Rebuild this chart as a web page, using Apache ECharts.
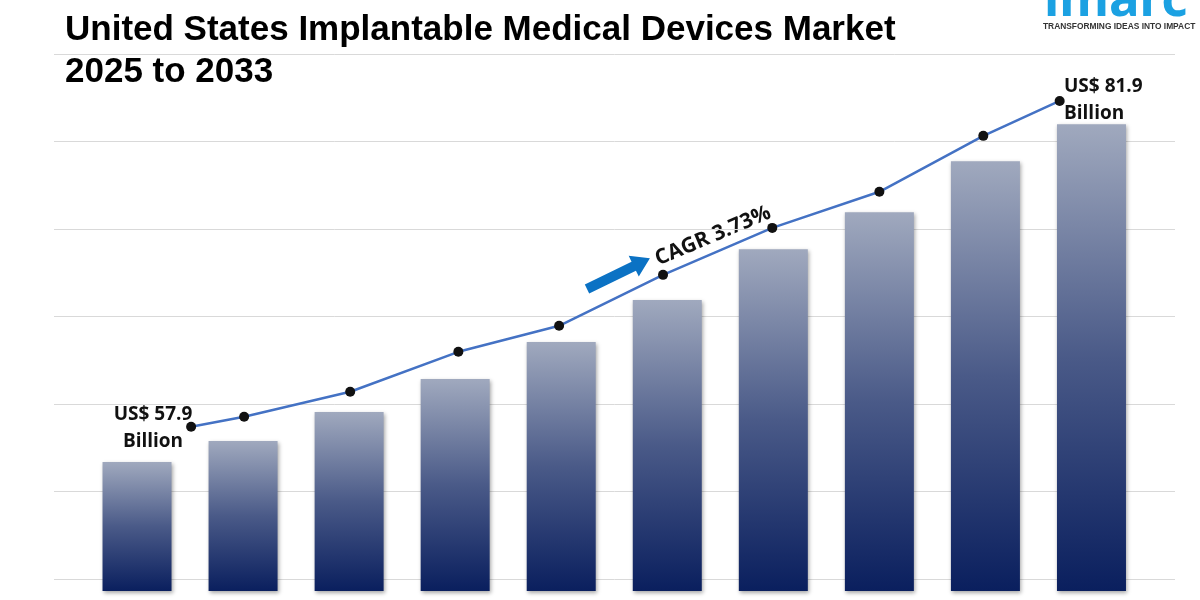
<!DOCTYPE html>
<html>
<head>
<meta charset="utf-8">
<script src="https://cdn.jsdelivr.net/npm/echarts@6/dist/echarts.min.js"></script>
<style>
html,body{margin:0;padding:0;background:#fff;}
#chart{width:1200px;height:600px;}
</style>
</head>
<body>
<div id="chart"></div>
<script>
// ---- data ----
var categories = ['2024','2025','2026','2027','2028','2029','2030','2031','2032','2033'];
var barValues = [55.3, 56.85, 58.98, 61.41, 64.14, 67.23, 70.98, 73.71, 77.46, 80.19];
var linePeriods = [1.01, 1.51, 2.51, 3.53, 4.48, 5.46, 6.49, 7.50, 8.48, 9.20];
var lineValues = [57.9, 58.64, 60.48, 63.42, 65.34, 69.09, 72.55, 75.21, 79.33, 81.9];
var gridTicks = [0, 1, 2, 3, 4, 5, 6];
var titleText = 'United States Implantable Medical Devices Market\n2025 to 2033';
var startLabel = 'US$ 57.9\nBillion';
var endLabel = 'US$ 81.9\nBillion';
var cagrLabel = 'CAGR 3.73%';

var chart = echarts.init(document.getElementById('chart'), null, {renderer: 'canvas'});

var lineData = linePeriods.map(function (x, i) { return [x, lineValues[i]]; });

var option = {
  backgroundColor: '#ffffff',
  animation: false,
  title: {
    text: titleText,
    left: 60,
    top: 4,
    textStyle: {
      fontFamily: 'Liberation Sans, Arial, sans-serif',
      fontWeight: 'bold',
      fontSize: 35,
      lineHeight: 42,
      color: '#000000'
    }
  },
  grid: [
    {left: 84, right: 55.5, top: 54, bottom: 9},
    {left: 54, right: 25, top: 54, bottom: 21}
  ],
  xAxis: [
    {type: 'category', gridIndex: 0, data: categories, show: false},
    {type: 'value', gridIndex: 0, min: 0, max: 10, show: false},
    {type: 'value', gridIndex: 1, min: 0, max: 1, show: false}
  ],
  yAxis: [
    {type: 'value', gridIndex: 0, min: 45.8, max: 85.36, show: false},
    {
      type: 'value', gridIndex: 1, min: gridTicks[0], max: gridTicks[gridTicks.length - 1], interval: 1,
      axisLine: {show: false}, axisTick: {show: false}, axisLabel: {show: false},
      splitLine: {show: true, lineStyle: {color: '#d9d9d9', width: 1}}
    }
  ],
  series: [
    {
      type: 'bar',
      xAxisIndex: 0,
      yAxisIndex: 0,
      data: barValues,
      barWidth: 69,
      itemStyle: {
        color: new echarts.graphic.LinearGradient(0, 0, 0, 1, [
          {offset: 0, color: '#a0a9be'},
          {offset: 0.5, color: '#4a5a88'},
          {offset: 1, color: '#0a1f5e'}
        ]),
        shadowColor: 'rgba(0,0,0,0.35)',
        shadowBlur: 4,
        shadowOffsetY: 2,
        shadowOffsetX: 1
      },
      z: 2
    },
    {
      type: 'line',
      xAxisIndex: 1,
      yAxisIndex: 0,
      data: lineData,
      symbol: 'circle',
      symbolSize: 10,
      itemStyle: {color: '#111111'},
      lineStyle: {color: '#4472c4', width: 2.5},
      z: 5
    }
  ],
  graphic: [
    {
      type: 'text', left: 1044, top: -24,
      style: {text: 'imarc', font: 'bold 51px "Noto Sans", sans-serif', fill: '#1ba1e2'}
    },
    {
      type: 'text', left: 1043, top: 23,
      style: {text: 'TRANSFORMING IDEAS INTO IMPACT', font: 'bold 8.4px "Liberation Sans", Arial, sans-serif', fill: '#333333'}
    },
    {
      type: 'text', x: 153, y: 401,
      style: {text: startLabel, font: 'bold 19px "Open Sans", sans-serif', fill: '#111111', textAlign: 'center', lineHeight: 27}
    },
    {
      type: 'text', x: 1064, y: 73,
      style: {text: endLabel, font: 'bold 19px "Open Sans", sans-serif', fill: '#111111', textAlign: 'left', lineHeight: 27}
    },
    {
      type: 'text', x: 713, y: 236, rotation: 23 * Math.PI / 180,
      style: {text: cagrLabel, font: 'bold 21px "Open Sans", sans-serif', fill: '#111111', textAlign: 'center', textVerticalAlign: 'middle'}
    },
    {
      type: 'polygon', x: 587, y: 289, rotation: 26 * Math.PI / 180,
      shape: {points: [[0, -5], [52, -5], [52, -11.5], [70, 0], [52, 11.5], [52, 5], [0, 5]]},
      style: {fill: '#0b72c4'}
    }
  ]
};
chart.setOption(option);
</script>
</body>
</html>
